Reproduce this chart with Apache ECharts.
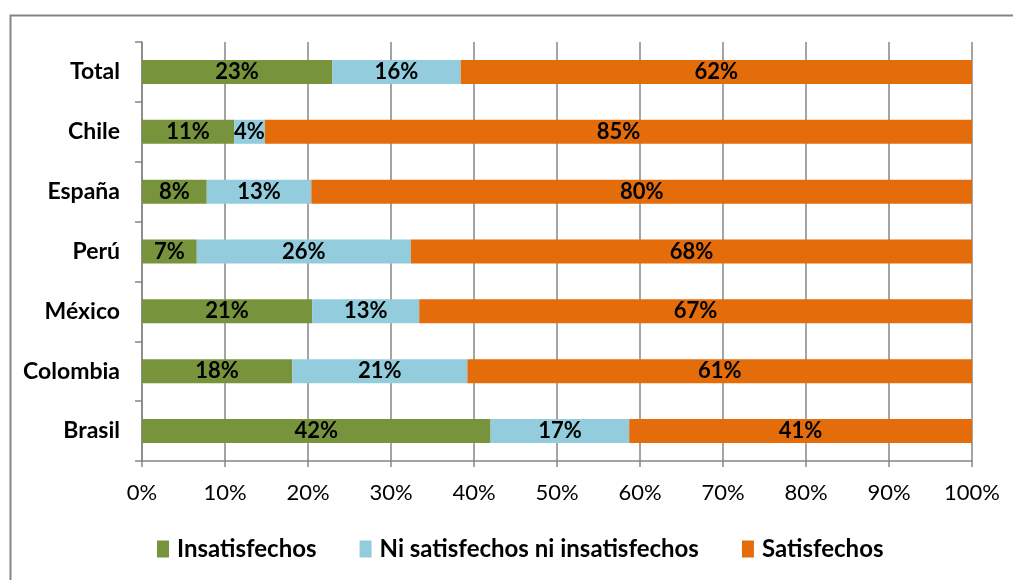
<!DOCTYPE html>
<html>
<head>
<meta charset="utf-8">
<script src="https://cdn.jsdelivr.net/npm/echarts@6/dist/echarts.min.js"></script>
<style>
html,body{margin:0;padding:0;background:#fff;}
#chart{width:1013px;height:580px;}
</style>
</head>
<body>
<div id="chart"></div>
<script>
var paises = ['Total', 'Chile', 'España', 'Perú', 'México', 'Colombia', 'Brasil'];
var insatisfechos = [22.9, 11.1, 7.8, 6.6, 20.5, 18.1, 42.0];
var neutros = [15.5, 3.7, 12.6, 25.8, 12.9, 21.1, 16.7];
var satisfechos = [61.6, 85.2, 79.6, 67.6, 66.6, 60.8, 41.3];
var ticksX = [0, 10, 20, 30, 40, 50, 60, 70, 80, 90, 100];

var fuente = 'Lato, "Open Sans", sans-serif';

function serie(nombre, datos, color){
	return {
		name: nombre,
		type: 'bar',
		stack: 'total',
		barWidth: 24,
		data: datos,
		itemStyle: {color: color},
		label: {
			show: true,
			position: 'inside',
			color: '#000',
			fontFamily: fuente,
			fontWeight: 'bold',
			fontSize: 22,
			formatter: function(p){ return Math.round(p.value) + '%'; }
		}
	};
}

var chart = echarts.init(document.getElementById('chart'));
chart.setOption({
	animation: false,
	backgroundColor: '#fff',
	graphic: [{
		type: 'rect',
		left: 8, top: 13,
		shape: {width: 1100, height: 700},
		style: {fill: 'none', stroke: '#868686', lineWidth: 2}
	}],
	grid: {left: 142, right: 41, top: 42, bottom: 119, containLabel: false},
	legend: {
		left: 152,
		top: 532,
		itemWidth: 12,
		itemHeight: 17,
		itemGap: 43,
		icon: 'rect',
		textStyle: {fontFamily: fuente, fontWeight: 'bold', fontSize: 24, color: '#000', padding: [0, 0, 0, 3]},
		data: ['Insatisfechos', 'Ni satisfechos ni insatisfechos', 'Satisfechos']
	},
	xAxis: {
		type: 'value',
		min: ticksX[0],
		max: ticksX[ticksX.length - 1],
		interval: 10,
		axisLine: {show: true, lineStyle: {color: '#868686', width: 1.5}},
		axisTick: {show: true, length: 6, lineStyle: {color: '#868686', width: 1.5}},
		splitLine: {show: true, lineStyle: {color: '#868686', width: 1.5}},
		axisLabel: {
			margin: 21,
			color: '#000',
			fontFamily: fuente,
			fontSize: 22,
			formatter: '{value}%'
		}
	},
	yAxis: {
		type: 'category',
		inverse: true,
		data: paises,
		axisLine: {show: true, lineStyle: {color: '#868686', width: 1.5}},
		axisTick: {show: true, length: 7, lineStyle: {color: '#868686', width: 1.5}},
		axisLabel: {
			margin: 22,
			color: '#000',
			fontFamily: fuente,
			fontWeight: 'bold',
			fontSize: 23
		}
	},
	series: [
		serie('Insatisfechos', insatisfechos, '#77933C'),
		serie('Ni satisfechos ni insatisfechos', neutros, '#93CDDD'),
		serie('Satisfechos', satisfechos, '#E46C0A')
	]
});
</script>
</body>
</html>
